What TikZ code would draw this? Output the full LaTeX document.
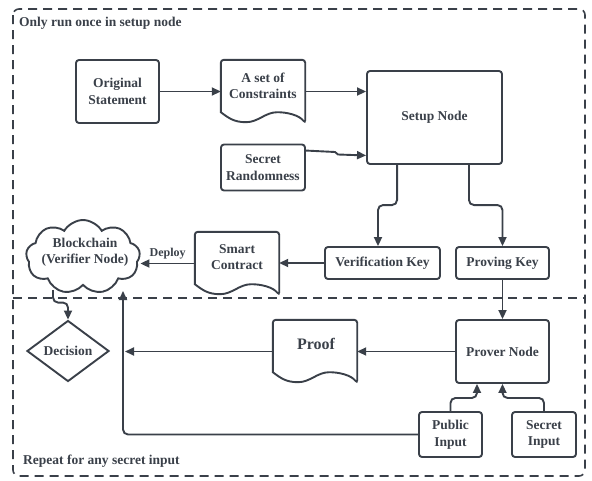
\documentclass[tikz,border=0pt]{standalone}
\usepackage{fontspec}
\setmainfont{Liberation Serif}
\usetikzlibrary{arrows.meta,shapes.geometric,shapes.symbols,calc}
\definecolor{ink}{HTML}{3A4049}
\newcommand\lbl{\bfseries\fontsize{13.5}{16.5}\selectfont}

\tikzset{
  line/.style={draw=ink, line width=1.9pt},
  box/.style={line, rounded corners=3pt, align=center, text=ink, font=\lbl, inner sep=2pt},
  ghost/.style={align=center, text=ink, font=\lbl, inner sep=0pt},
  docframe/.style={minimum width=84pt, minimum height=63pt, inner sep=0pt},
  conn/.style={line, rounded corners=5pt, -{Triangle[length=9pt,width=8pt]}},
  frame/.style={draw=ink, line width=1.6pt, dash pattern=on 9pt off 6pt},
}

% outline of a document shape (wavy bottom) around a named node
\newcommand\docoutline[1]{%
  \draw[line, rounded corners=3pt]
    ($(#1.south west)+(0,-11)$) -- (#1.north west) -- (#1.north east) -- (#1.south east)
    [sharp corners]
    .. controls +(-6,-8) and +(10,0) .. ($(#1.south west)!0.67!(#1.south east)+(0,-11)$)
    .. controls +(-12,0) and +(12,0) .. ($(#1.south west)!0.3!(#1.south east)+(0,-1)$)
    .. controls +(-12,0) and +(8,6) .. ($(#1.south west)+(0,-11)$) -- cycle;}

\begin{document}
\begin{tikzpicture}[x=1pt, y=-1pt]
\useasboundingbox (0,0) rectangle (592,480);

% the two stages
\draw[frame, rounded corners=6pt] (13,9) rectangle (585,476);
\draw[frame] (13,298) -- (585,298);
\node[ghost, anchor=west] (t-top) at (19,23) {Only run once in setup node};
\node[ghost, anchor=west] (t-bot) at (23,461) {Repeat for any secret input};

% setup stage
\node[box, minimum width=83pt, minimum height=63pt] (orig) at (117.5,91.5) {Original\\Statement};
\node[docframe] (cons) at (263,91.5) {};
\docoutline{cons}
\node[ghost] (cons-t) at (263,86) {A set of\\Constraints};
\node[box, minimum width=84pt, minimum height=46pt] (secr) at (263,167.5) {Secret\\Randomness};
\node[box, minimum width=135pt, minimum height=93pt] (setup) at (434.5,117.5) {Setup Node};
\node[box, minimum width=115pt, minimum height=32pt] (vkey) at (382.5,263) {Verification Key};
\node[box, minimum width=93pt, minimum height=32pt] (pkey) at (502.5,263) {Proving Key};
\node[docframe] (smart) at (237,263.5) {};
\docoutline{smart}
\node[ghost] (smart-t) at (237,257) {Smart\\Contract};
\node[cloud, cloud puffs=9, cloud puff arc=120, aspect=1.6, line, fill=white,
      minimum width=114pt, minimum height=74pt, inner sep=0pt] (chain) at (83,257) {};
\node[ghost] (chain-t) at (85,252) {Blockchain\\(Verifier Node)};

% proving stage
\node[diamond, line, minimum width=82pt, minimum height=61pt, aspect=1.35, inner sep=0pt,
      text=ink, font=\lbl] (dec) at (68,351) {Decision};
\node[docframe] (proof) at (315,351.5) {};
\docoutline{proof}
\node[ghost, font=\bfseries\fontsize{16}{19}\selectfont] (proof-t) at (316,344) {Proof};
\node[box, minimum width=93pt, minimum height=63pt] (prover) at (502.5,351.5) {Prover Node};
\node[box, minimum width=63pt, minimum height=45pt] (pub) at (450.5,434.5) {Public\\Input};
\node[box, minimum width=64pt, minimum height=45pt] (sec) at (544,434.5) {Secret\\Input};

% free ends of connectors at the cloud and the return line
\coordinate (c-out) at (53,290);
\coordinate (c-in) at (123,291);
\coordinate (v-hit) at (125,351.5);

% connectors
\draw[conn] (orig) -- (cons);
\draw[conn] (cons.east) -- (cons.east -| setup.west);
\draw[line, -{Triangle[length=9pt,width=8pt]}]
  ($(secr.north east)+(0,7)$) -- (335,152) -- (338,154.5) -- ($(setup.south west)+(0,-9.5)$);
\draw[conn] ($(setup.south west)+(31,0)$) |- ($(vkey.north)+(-4.5,-41)$) -- ($(vkey.north)+(-4.5,0)$);
\draw[conn] ($(setup.south east)+(-34,0)$) |- ($(pkey.north)+(0,-41)$) -- (pkey.north);
\draw[conn] (vkey.west) -- (vkey.west -| smart.east);
\draw[conn] (smart.west) -- (smart.west -| chain.east)
  node[midway, above=3pt, ghost, font=\bfseries\fontsize{12}{14}\selectfont] (deploy) {Deploy};
\draw[conn] (c-out) |- ($(dec.north)+(0,-17)$) -- (dec.north);
\draw[conn] (pkey) -- (prover);
\draw[conn] (prover.west) -- (prover.west -| proof.east);
\draw[conn] (proof.west) -- (v-hit);
\draw[conn] (pub.west) -| (c-in);
\draw[conn] (pub.north) |- ($(prover.south)+(-25.5,14)$) -- ($(prover.south)+(-25.5,0)$);
\draw[conn] (sec.north) |- ($(prover.south)+(0,14)$) -- (prover.south);
\end{tikzpicture}
\end{document}
